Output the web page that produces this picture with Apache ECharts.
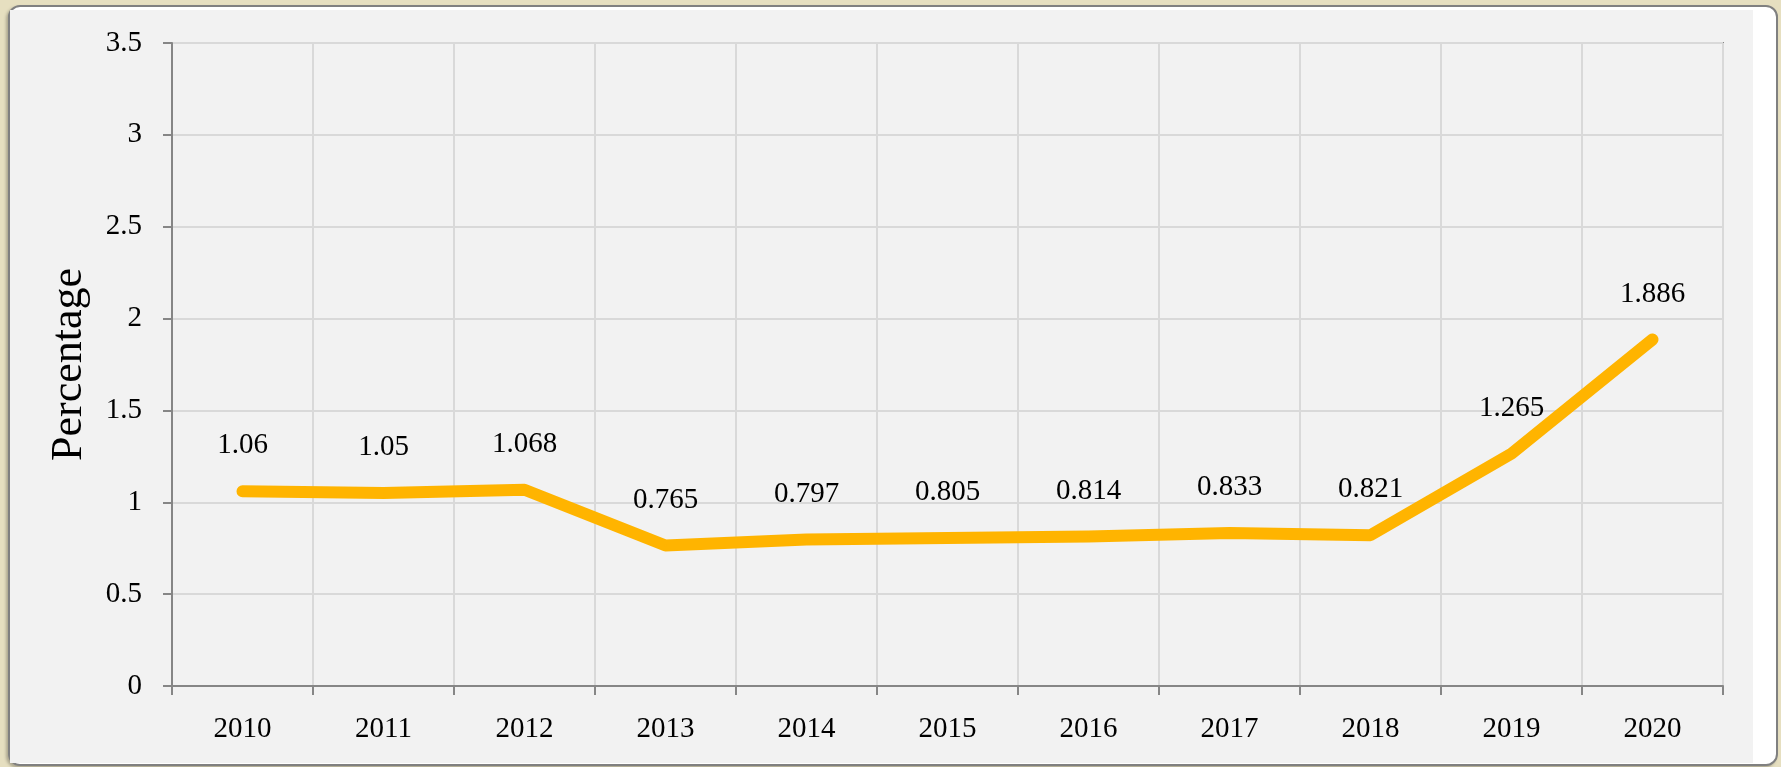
<!DOCTYPE html>
<html>
<head>
<meta charset="utf-8">
<script src="https://cdn.jsdelivr.net/npm/echarts@6/dist/echarts.min.js"></script>
<style>
  html, body { margin: 0; padding: 0; width: 1781px; height: 767px; overflow: hidden; background: #e6dfc0; }
  #frame { position: absolute; left: 8px; top: 5px; width: 1766px; height: 757px; background: #ffffff;
           border: 2px solid #808080; border-radius: 12px; box-shadow: -2px 2px 3px rgba(0,0,0,0.25); }
  #panel { position: absolute; left: 10px; top: 10px; width: 1743px; height: 753px; background: #f2f2f2; }
  #chart { position: absolute; left: 0; top: 0; width: 1781px; height: 767px; }
</style>
</head>
<body>
<div id="frame"></div>
<div id="panel"></div>
<div id="chart"></div>
<script>
const years = ['2010', '2011', '2012', '2013', '2014', '2015', '2016', '2017', '2018', '2019', '2020'];
const percentage = [1.06, 1.05, 1.068, 0.765, 0.797, 0.805, 0.814, 0.833, 0.821, 1.265, 1.886];
const yTicks = { min: 0, max: 3.5, interval: 0.5 };
const yName = 'Percentage';

const font = "'Liberation Serif', 'DejaVu Serif', serif";
const chart = echarts.init(document.getElementById('chart'));
chart.setOption({
  backgroundColor: 'transparent',
  animation: false,
  grid: { left: 172, top: 43, right: 1781 - 1723, bottom: 767 - 686, show: true,
          borderColor: '#868686', borderWidth: 2, backgroundColor: 'transparent' },
  xAxis: {
    type: 'category',
    data: years,
    boundaryGap: true,
    axisLine: { lineStyle: { color: '#868686', width: 2 } },
    axisTick: { show: true, length: 9, lineStyle: { color: '#868686', width: 2 } },
    splitLine: { show: true, lineStyle: { color: '#d9d9d9', width: 2 } },
    axisLabel: { color: '#000', fontFamily: font, fontSize: 29, margin: 29 }
  },
  yAxis: {
    type: 'value',
    min: yTicks.min, max: yTicks.max, interval: yTicks.interval,
    name: yName,
    nameLocation: 'middle',
    nameRotate: 90,
    nameGap: 81,
    nameTextStyle: { color: '#000', fontFamily: font, fontSize: 44 },
    axisLine: { show: true, lineStyle: { color: '#868686', width: 2 } },
    axisTick: { show: true, length: 9, lineStyle: { color: '#868686', width: 2 } },
    splitLine: { show: true, lineStyle: { color: '#d9d9d9', width: 2 } },
    axisLabel: { color: '#000', fontFamily: font, fontSize: 29, margin: 30 }
  },
  series: [{
    type: 'line',
    data: percentage,
    showSymbol: true,
    symbol: 'circle',
    symbolSize: 2,
    itemStyle: { color: '#ffb400', borderWidth: 0 },
    lineStyle: { color: '#ffb400', width: 12, cap: 'round', join: 'round' },
    label: { show: true, position: 'top', distance: 30, color: '#000', fontFamily: font, fontSize: 29,
             formatter: p => String(p.value) },
    z: 3
  }]
});
</script>
</body>
</html>
